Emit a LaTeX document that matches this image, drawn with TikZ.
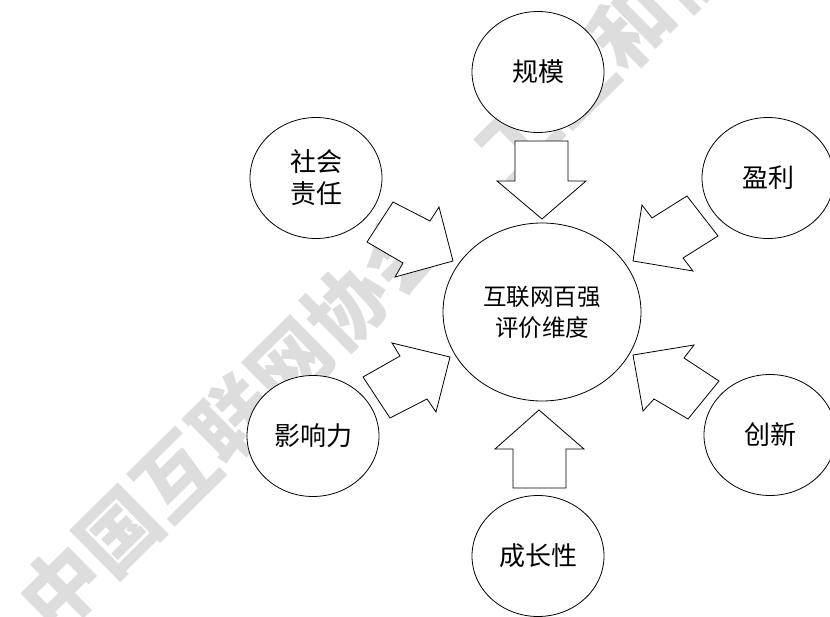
\documentclass[tikz,border=0pt]{standalone}
\usepackage{fontspec}
\newfontfamily\cjk{Noto Sans CJK SC}
\usetikzlibrary{shapes.geometric}
\definecolor{wmgray}{RGB}{221,221,221}
\begin{document}
\begin{tikzpicture}[x=1pt,y=-1pt,
  bubble/.style={ellipse,draw,line width=0.8pt,fill=white,minimum width=132pt,minimum height=121pt,inner sep=0pt,font=\cjk\fontsize{26}{32}\selectfont,align=center},
  hub/.style={ellipse,draw,line width=0.8pt,fill=white,minimum width=198pt,minimum height=178pt,inner sep=0pt,font=\cjk\fontsize{23.5}{31}\selectfont,align=center},
  blockarrow/.style={draw,line width=0.8pt,fill=white,line join=miter},
  watermark/.style={text=wmgray,font=\cjk\bfseries\fontsize{80}{80}\selectfont,inner sep=0pt,anchor=west,rotate=44.6}]
\useasboundingbox (0,0) rectangle (830,617);
\node[watermark] (wm) at (33,616) {中国互联网协会　工业和信息化部};
% block arrows
\draw[blockarrow] (515,141) -- (568,141) -- (568,181) -- (586,181) -- (542,219) -- (497,181) -- (515,181) -- cycle;
\draw[blockarrow] (513,488) -- (566,488) -- (566,449) -- (584,449) -- (539,410) -- (495,449) -- (513,449) -- cycle;
\draw[blockarrow] (393,202) -- (430,221) -- (439,207) -- (453,261) -- (395,277) -- (403,263) -- (367,242) -- cycle;
\draw[blockarrow] (687,196) -- (652,218) -- (642,205) -- (633,261) -- (693,271) -- (683,258) -- (718,236) -- cycle;
\draw[blockarrow] (363,377) -- (400,356) -- (392,343) -- (450,357) -- (436,412) -- (427,399) -- (390,418) -- cycle;
\draw[blockarrow] (719,381) -- (684,358) -- (694,345) -- (633,355) -- (643,411) -- (654,399) -- (688,419) -- cycle;
% ellipses
\node[hub] (hub) at (542,312) {互联网百强\\评价维度};
\node[bubble] (scale) at (538,72) {规模};
\node[bubble] (profit) at (768,178) {盈利};
\node[bubble] (innov) at (770,435) {创新};
\node[bubble] (growth) at (538,556) {成长性};
\node[bubble] (influence) at (313,436) {影响力};
\node[bubble] (social) at (316,178) {社会\\责任};
\end{tikzpicture}
\end{document}
